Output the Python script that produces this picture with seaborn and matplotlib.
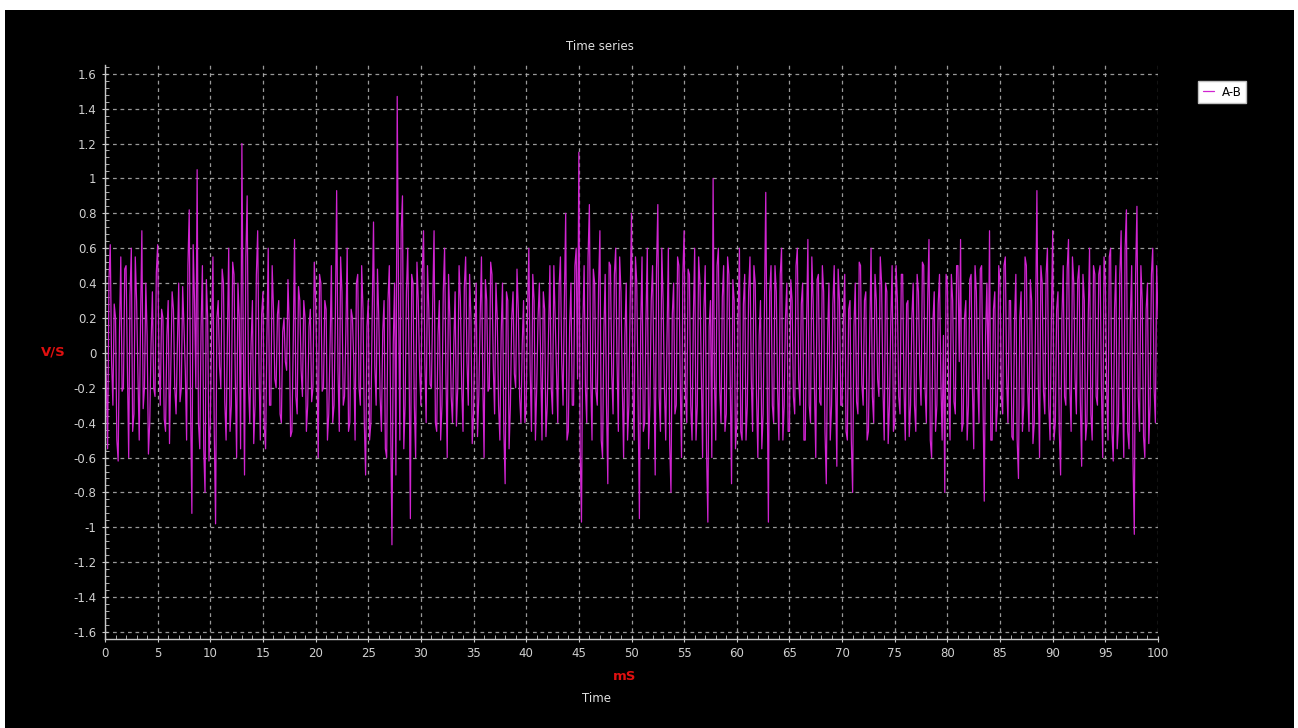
import numpy as np
import pandas as pd
import matplotlib
matplotlib.use("Agg")
import matplotlib.pyplot as plt
from matplotlib.patches import Rectangle
from matplotlib.ticker import MultipleLocator, FuncFormatter
import seaborn as sns

# ---- data ----
series_name = "A-B"
sample_step_ms = 0.125
# samples at 0, 0.25, 0.5 ... 100 ms
values_ab_even = [
    0.05, -0.55, 0.62, -0.3, 0.2, -0.62, 0.55, -0.2, 0.5, -0.6, 0.6, -0.35, 0.3, -0.5, 0.7, -0.2, 0.1, -0.4, 0.35, -0.25,
    0.62, -0.3, 0.2, -0.45, 0.3, -0.1, 0.25, -0.35, 0.4, -0.2, 0.15, -0.5, 0.82, -0.92, 0.3, 1.05, -0.55, 0.5, -0.8, 0.2,
    -0.4, 0.55, -0.98, 0.3, -0.2, 0.4, -0.5, 0.6, -0.3, 0.45, -0.6, 0.2, 1.2, -0.7, 0.9, -0.4, 0.3, -0.3, 0.7, -0.5,
    0.35, -0.55, 0.6, -0.3, 0.25, -0.2, 0.3, -0.4, 0.2, -0.1, 0.15, -0.45, 0.65, -0.35, 0.3, -0.25, 0.2, -0.3, 0.25, -0.2,
    0.3, -0.6, 0.4, -0.2, 0.25, -0.35, 0.5, -0.3, 0.93, -0.45, 0.35, -0.25, 0.6, -0.4, 0.2, -0.5, 0.45, -0.3, 0.25, -0.7,
    0.3, -0.4, 0.75, -0.3, 0.2, -0.45, 0.3, -0.6, 0.5, -1.1, 0.4, 1.47, -0.5, 0.9, -0.3, 0.6, -0.95, 0.4, -0.6, 0.3,
    -0.3, 0.7, -0.4, 0.25, -0.2, 0.7, -0.45, 0.3, -0.3, 0.6, -0.6, 0.2, -0.4, 0.35, -0.2, 0.3, -0.45, 0.55, -0.3, 0.2,
    -0.35, 0.4, -0.25, 0.55, -0.6, 0.3, -0.2, 0.45, -0.35, 0.2, -0.5, 0.4, -0.75, 0.3, -0.3, 0.35, -0.2, 0.25, -0.4, 0.3,
    -0.3, 0.6, -0.45, 0.3, -0.2, 0.4, -0.5, 0.25, -0.3, 0.5, -0.35, 0.2, -0.4, 0.55, -0.3, 0.8, -0.45, 0.4, -0.3, 0.6,
    1.15, -0.97, 0.5, -0.4, 0.85, -0.5, 0.4, -0.3, 0.7, -0.6, 0.45, -0.75, 0.5, -0.35, 0.6, -0.45, 0.35, -0.6, 0.4, -0.3,
    0.8, -0.5, 0.4, -0.95, 0.55, -0.4, 0.6, -0.3, 0.5, -0.7, 0.85, -0.45, 0.3, -0.5, 0.6, -0.8, 0.4, -0.3, 0.5, -0.6,
    0.7, -0.4, 0.45, -0.5, 0.6, -0.3, 0.4, -0.6, 0.5, -0.97, 0.3, 1.0, -0.5, 0.6, -0.4, 0.5, -0.35, 0.45, -0.75, 0.3,
    -0.4, 0.6, -0.5, 0.45, -0.3, 0.55, -0.45, 0.4, -0.6, 0.3, -0.35, 0.92, -0.97, 0.5, -0.4, 0.35, -0.5, 0.6, -0.3, 0.4,
    -0.45, 0.3, -0.35, 0.6, -0.3, 0.4, -0.5, 0.65, -0.4, 0.3, -0.6, 0.45, -0.3, 0.35, -0.75, 0.4, -0.3, 0.5, -0.65, 0.3,
    -0.3, 0.45, -0.5, 0.3, -0.8, 0.4, -0.35, 0.5, -0.3, 0.35, -0.45, 0.6, -0.4, 0.3, -0.25, 0.4, -0.5, 0.35, -0.3, 0.5,
    -0.4, 0.3, -0.35, 0.45, -0.5, 0.3, -0.3, 0.4, -0.45, 0.35, -0.3, 0.5, -0.4, 0.65, -0.6, 0.35, -0.3, 0.45, -0.5, -0.8,
    0.4, -0.5, 0.3, -0.35, 0.5, 0.65, -0.4, 0.3, -0.3, 0.45, -0.55, 0.35, -0.4, 0.5, -0.85, 0.4, 0.7, -0.5, 0.35, -0.3,
    0.4, -0.35, 0.55, -0.4, 0.3, -0.5, 0.45, -0.72, 0.35, -0.3, 0.5, -0.45, 0.3, -0.4, 0.93, -0.6, 0.4, -0.35, 0.6, -0.5,
    0.7, -0.4, 0.35, -0.7, 0.5, -0.3, 0.65, -0.45, 0.4, -0.35, 0.5, -0.65, 0.3, -0.4, 0.6, -0.5, 0.45, -0.3, 0.5, -0.6,
    0.4, -0.5, 0.6, -0.62, 0.5, -0.4, 0.7, -0.6, 0.82, -0.55, 0.5, -1.04, 0.84, -0.45, 0.3, -0.6, 0.4, -0.3, 0.6, -0.4, 0.2,
]
# samples at 0.125, 0.375 ... 99.875 ms
values_ab_odd = [
    -0.15, 0.42, -0.05, 0.28, -0.5, 0.12, -0.22, 0.48, -0.08, 0.33, -0.45, 0.55, -0.12, 0.18, -0.32, 0.4, -0.58, 0.05, -0.2, 0.46,
    -0.05, 0.25, -0.38, 0.1, -0.52, 0.35, -0.2, 0.05, -0.28, 0.38, -0.1, 0.5, -0.3, 0.62, -0.2, -0.4, 0.15, -0.55, 0.42, -0.62,
    0.12, -0.45, 0.2, -0.08, 0.48, -0.28, 0.1, -0.45, 0.52, -0.15, 0.4, -0.55, 0.1, 0.55, -0.18, 0.05, -0.52, 0.45, -0.1, 0.22,
    -0.42, 0.08, -0.3, 0.5, -0.15, 0.22, -0.35, 0.12, -0.05, 0.42, -0.48, 0.05, -0.25, 0.38, -0.1, 0.3, -0.45, 0.15, -0.28, 0.52,
    -0.08, 0.45, -0.22, 0.3, -0.5, 0.05, -0.4, 0.2, -0.1, 0.55, -0.3, 0.12, -0.45, 0.25, -0.05, 0.4, -0.2, 0.5, -0.4, 0.15,
    -0.5, 0.22, -0.08, 0.48, -0.25, 0.12, -0.55, 0.3, -0.35, 0.05, -0.7, 0.35, 0.7, -0.55, 0.35, -0.05, 0.45, -0.3, 0.52, -0.1,
    0.45, -0.05, 0.5, -0.18, 0.3, -0.4, 0.1, -0.5, 0.35, -0.12, 0.45, -0.25, 0.05, -0.42, 0.5, -0.2, 0.38, -0.05, 0.45, -0.52,
    0.1, -0.48, 0.2, -0.15, 0.42, -0.22, 0.52, -0.08, 0.4, -0.3, 0.12, -0.45, 0.35, -0.55, 0.2, -0.12, 0.48, -0.25, 0.05, -0.4,
    0.22, -0.1, 0.45, -0.5, 0.2, -0.05, 0.35, -0.48, 0.12, -0.2, 0.5, -0.12, 0.38, -0.05, 0.3, -0.5, 0.15, -0.3, 0.5, -0.15,
    -0.55, 0.15, -0.2, 0.55, -0.15, 0.48, -0.22, 0.38, -0.5, 0.12, -0.3, 0.52, -0.12, 0.45, -0.05, 0.55, -0.18, 0.1, -0.5, 0.3,
    -0.2, 0.55, -0.25, 0.15, -0.45, 0.2, -0.55, 0.3, -0.12, 0.48, -0.25, 0.6, -0.2, 0.1, -0.52, 0.22, -0.35, 0.55, -0.15, 0.45,
    -0.25, 0.48, -0.3, 0.2, -0.5, 0.55, -0.12, 0.25, -0.55, 0.15, -0.6, -0.15, 0.5, -0.2, 0.32, -0.45, 0.55, -0.15, 0.42, -0.55,
    0.2, -0.45, 0.28, -0.5, 0.35, -0.15, 0.5, -0.25, 0.1, -0.55, 0.25, -0.1, 0.35, -0.3, 0.5, -0.22, 0.45, -0.5, 0.2, -0.45,
    0.42, -0.25, 0.5, -0.15, 0.28, -0.5, 0.15, -0.3, 0.55, -0.2, 0.42, -0.28, 0.5, -0.45, 0.1, -0.5, 0.28, -0.15, 0.48, -0.3,
    0.2, -0.45, 0.25, -0.5, 0.15, -0.28, 0.52, -0.18, 0.3, -0.5, 0.12, -0.25, 0.45, -0.15, 0.55, -0.2, 0.4, -0.52, 0.18, -0.45,
    0.5, -0.25, 0.45, -0.2, 0.28, -0.48, 0.2, -0.3, 0.45, -0.12, 0.52, -0.2, 0.3, -0.5, 0.18, -0.45, 0.28, -0.15, 0.1, 0.45,
    -0.2, 0.45, -0.28, 0.5, -0.05, -0.45, 0.2, -0.5, 0.42, -0.2, 0.5, -0.15, 0.48, -0.25, 0.1, -0.15, -0.5, 0.25, -0.45, 0.5,
    -0.25, 0.5, -0.15, 0.3, -0.48, 0.18, -0.5, 0.2, -0.45, 0.55, -0.2, 0.42, -0.52, 0.2, -0.15, 0.5, -0.22, 0.45, -0.3, 0.2,
    -0.5, 0.25, -0.45, 0.2, -0.25, 0.48, -0.2, 0.55, -0.15, 0.42, -0.28, 0.45, -0.5, 0.2, -0.35, 0.5, -0.25, 0.45, -0.2, 0.55,
    -0.2, 0.55, -0.45, 0.25, -0.55, 0.45, -0.2, 0.6, -0.45, 0.2, -0.62, 0.45, -0.25, 0.5, -0.48, 0.25, -0.52, 0.45, -0.2, 0.5,
]

title_text = "Time series"
x_unit = "mS"
x_name = "Time"
y_unit = "V/S"

# merge the two sample sets in time order
values_ab = []
for i, v in enumerate(values_ab_even):
    values_ab.append(v)
    if i < len(values_ab_odd):
        values_ab.append(values_ab_odd[i])
time_ms = [i * sample_step_ms for i in range(len(values_ab))]

df = pd.DataFrame({"Time": time_ms, "Value": values_ab, "Series": series_name})

# ---- style ----
sns.set_style("dark")
plt.rcParams["font.family"] = ["DejaVu Sans"]

W, H = 1298, 728
fig = plt.figure(figsize=(W / 100, H / 100), dpi=100, facecolor="white")
# black panel (drawn behind the axes)
fig.patches.append(Rectangle((5 / W, 0), (1294 - 5) / W, (728 - 10) / H,
                             transform=fig.transFigure, facecolor="black",
                             edgecolor="none", zorder=-10))

ax = fig.add_axes([105 / W, (H - 639) / H, (1158 - 105) / W, (639 - 65) / H])
ax.set_facecolor("black")

line_color = "#d024d0"
sns.lineplot(data=df, x="Time", y="Value", hue="Series", palette=[line_color],
             estimator=None, sort=True, linewidth=0.9, ax=ax, legend=True)

ax.set_xlim(0, 100)
ax.set_ylim(-1.64, 1.65)

grid_col = "#b4b4b4"
ax.xaxis.set_major_locator(MultipleLocator(5))
ax.xaxis.set_minor_locator(MultipleLocator(1))
ax.yaxis.set_major_locator(MultipleLocator(0.2))
ax.yaxis.set_minor_locator(MultipleLocator(0.04))
ax.yaxis.set_major_formatter(FuncFormatter(lambda v, p: "%g" % round(v, 2)))
ax.grid(True, which="major", color=grid_col, linestyle=(0, (3, 3)), linewidth=0.9, alpha=0.85)
ax.set_axisbelow(True)

for side in ["top", "right"]:
    ax.spines[side].set_visible(False)
for side in ["left", "bottom"]:
    ax.spines[side].set_visible(True)
    ax.spines[side].set_color("#c8c8c8")
    ax.spines[side].set_linewidth(1.0)

ax.tick_params(axis="both", which="major", colors="#c8c8c8", labelcolor="#d0d0d0",
               labelsize=8.5, length=5, width=0.8, direction="inout")
ax.tick_params(axis="both", which="minor", colors="#c8c8c8", length=3, width=0.6,
               direction="in")
ax.tick_params(axis="x", which="both", bottom=True)
ax.tick_params(axis="y", which="both", left=True)

ax.set_xlabel("")
ax.set_ylabel("")

# texts
fig.text(600 / W, 1 - 46 / H, title_text, color="#e0e0e0", fontsize=8.5,
         ha="center", va="center")
fig.text(625 / W, 1 - 676 / H, x_unit, color="#e01010", fontsize=9.5,
         fontweight="bold", ha="center", va="center")
fig.text(597 / W, 1 - 699 / H, x_name, color="#e0e0e0", fontsize=8.5,
         ha="center", va="center")
fig.text(53 / W, 1 - 352 / H, y_unit, color="#e01010", fontsize=9.5,
         fontweight="bold", ha="center", va="center")

# legend
handles, labels = ax.get_legend_handles_labels()
ax.legend(handles, labels, loc="center", bbox_to_anchor=(1222 / W, 1 - 92 / H),
          bbox_transform=fig.transFigure, frameon=True, facecolor="white",
          edgecolor="#c0c0c0", fancybox=False, framealpha=1, fontsize=8.5,
          handlelength=1.0, handletextpad=0.6, borderpad=0.4, labelcolor="black")

fig.savefig("out.png", dpi=100, facecolor="white")
